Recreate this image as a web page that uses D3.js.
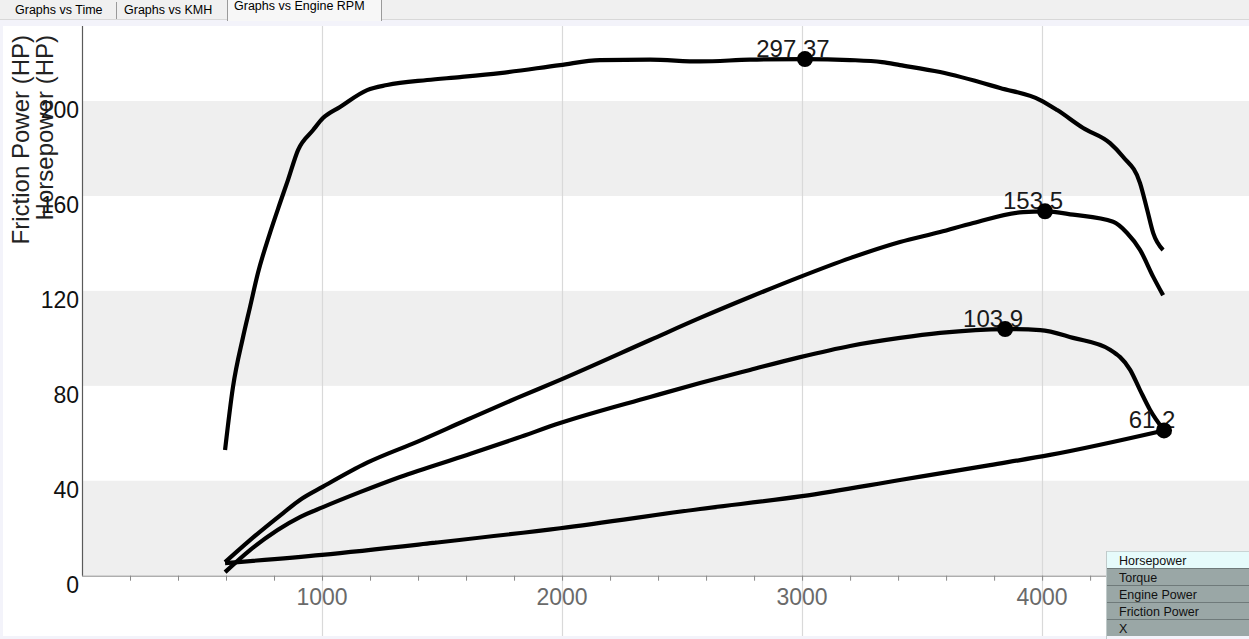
<!DOCTYPE html>
<html><head><meta charset="utf-8">
<script src="https://cdn.jsdelivr.net/npm/d3@7"></script>
<style>
html,body{margin:0;padding:0;background:#f3f3fa;overflow:hidden;}
svg{display:block;}
text{font-family:"Liberation Sans",Arial,sans-serif;}
</style></head>
<body>
<svg id="chart" width="1249" height="639"></svg>
<script>
// ---- data ----
const tabLabels = ["Graphs vs Time", "Graphs vs KMH", "Graphs vs Engine RPM"];
const legendItems = ["Horsepower", "Torque", "Engine Power", "Friction Power", "X"];
const yTicks = [0, 40, 80, 120, 160, 200];
const xLabelTicks = [1000, 2000, 3000, 4000];
const yTitles = ["Friction Power (HP)", "Horsepower (HP)"];

const rpmTorque = [596,629,671,700,733,783,825,858,900,963,1004,1075,1188,1271,1438,1575,1742,1992,2158,2367,2575,2783,3012,3200,3333,3408,3575,3825,3992,4063,4171,4283,4338,4408,4438,4463,4504];
const torque    = [72.3,108.6,137.4,154.6,174.2,197.2,214.5,227.7,245.0,256.5,263.4,269.8,279.5,282.4,285.3,287.0,289.3,293.9,296.8,297.0,296.0,297.0,297.37,296.8,295.6,293.9,289.9,280.7,273.8,268.0,257.7,249.0,241.0,226.0,210.5,197.2,187.5];

const rpmHP = [596,700,838,908,1004,1188,1396,1604,1813,1992,2367,2575,2783,2992,3200,3408,3575,3713,3921,4012,4129,4296,4354,4408,4463,4504];
const hp    = [5.7,15.0,26.4,31.9,37.5,47.6,56.4,65.7,74.9,82.5,99.3,108.6,117.4,125.9,133.8,140.6,144.8,148.6,153.2,153.5,152.1,149.1,144.4,137.3,125.9,118.2];

const rpmEP = [596,700,908,1004,1158,1325,1604,1813,1992,2367,2575,2783,2992,3200,3408,3575,3846,3992,4129,4283,4367,4408,4450,4508];
const ep    = [1.5,10.8,24.7,28.9,35.2,41.6,50.9,58.0,64.3,75.3,81.2,86.7,92.1,96.8,100.2,102.3,103.9,103.5,100.2,95.2,86.7,78.2,69.8,61.2];

const rpmFP = [596,1000,1463,1992,2575,3000,3408,3783,4033,4508];
const fp    = [5.3,8.8,13.8,20.0,28.1,33.5,40.3,46.6,50.9,61.2];

const peakLabels = ["297.37", "153.5", "103.9", "61.2"];

// ---- layout ----
const svg = d3.select("#chart");
const W = 1249, H = 639;
const plotLeft = 82, plotTop = 26, axisY = 575.7, plotBottom = 636;

const x = d3.scaleLinear().domain([0, 4862]).range([plotLeft, W]);
const y = d3.scaleLinear().domain([0, 231.6]).range([axisY, plotTop]);
const yT = d3.scaleLinear().domain([0, 316.4]).range([axisY, plotTop]);

// tab bar
svg.append("rect").attr("x",0).attr("y",0).attr("width",W).attr("height",20).attr("fill","#f0f0f0");
svg.append("line").attr("x1",0).attr("x2",W).attr("y1",19.5).attr("y2",19.5).attr("stroke","#d8d8d8");
svg.append("rect").attr("x",227).attr("y",0).attr("width",154).attr("height",21).attr("fill","#f7f7f7");
const tabX = [15, 124, 234];
const tabY = [14, 14, 10];
tabLabels.forEach((t,i)=>{
  svg.append("text").attr("x",tabX[i]).attr("y",tabY[i]).attr("font-size",12.5).attr("fill","#000").text(t);
});
[[116,2,19],[227,0,21],[381,0,21]].forEach(s=>{
  svg.append("line").attr("x1",s[0]+0.5).attr("x2",s[0]+0.5).attr("y1",s[1]).attr("y2",s[2]).attr("stroke","#9a9a9a");
});

// chart background
svg.append("rect").attr("x",3).attr("y",plotTop).attr("width",W-3).attr("height",plotBottom-plotTop).attr("fill","#fff");

// bands
const bands = [[0,40],[80,120],[160,200]];
svg.selectAll("rect.band").data(bands).enter().append("rect")
  .attr("class","band").attr("x",plotLeft).attr("width",W-plotLeft)
  .attr("y",d=>y(d[1])).attr("height",d=>y(d[0])-y(d[1])).attr("fill","#efefef");

// vertical gridlines
svg.selectAll("line.grid").data(xLabelTicks).enter().append("line")
  .attr("x1",d=>Math.round(x(d))+0.5).attr("x2",d=>Math.round(x(d))+0.5)
  .attr("y1",plotTop).attr("y2",plotBottom).attr("stroke","#d9d9d9").attr("stroke-width",1.2);

// x axis
const xAxis = d3.axisBottom(x).tickValues(d3.range(200, 4801, 200)).tickSize(5).tickFormat("");
const gx = svg.append("g").attr("transform",`translate(0,${axisY})`).call(xAxis);
gx.select(".domain").attr("stroke","#8a8a8a").attr("d",`M${plotLeft},0.5H${W}`);
gx.selectAll(".tick line").attr("stroke","#8a8a8a");
svg.selectAll("text.xl").data(xLabelTicks).enter().append("text")
  .attr("class","xl").attr("x",d=>x(d)).attr("y",605).attr("text-anchor","middle")
  .attr("font-size",23).attr("fill","#6a6a6a").text(d=>d);

// y axis
svg.append("line").attr("x1",plotLeft+0.5).attr("x2",plotLeft+0.5).attr("y1",plotTop).attr("y2",axisY)
  .attr("stroke","#5a5a5a").attr("stroke-width",1.2);
svg.selectAll("text.yl").data(yTicks).enter().append("text")
  .attr("class","yl").attr("x",79).attr("y",d=>y(d)+17).attr("text-anchor","end")
  .attr("font-size",23).attr("fill","#111").text(d=>d);

// y titles
const titleX = [29, 53];
yTitles.forEach((t,i)=>{
  svg.append("text").attr("transform",`translate(${titleX[i]},35) rotate(-90)`)
    .attr("text-anchor","end").attr("font-size",24).attr("fill","#222").text(t);
});

// lines
const series = [
  {r:rpmTorque, v:torque, s:yT},
  {r:rpmHP, v:hp, s:y},
  {r:rpmEP, v:ep, s:y},
  {r:rpmFP, v:fp, s:y}
];
series.forEach(se=>{
  const pts = se.r.map((r,i)=>[r, se.v[i]]);
  const line = d3.line().x(d=>x(d[0])).y(d=>se.s(d[1])).curve(d3.curveMonotoneX);
  svg.append("path").attr("d",line(pts)).attr("fill","none").attr("stroke","#000")
    .attr("stroke-width",4.2).attr("stroke-linejoin","round").attr("stroke-linecap","butt");
});

// peaks
series.forEach((se,k)=>{
  const i = d3.maxIndex(se.v);
  const px = x(se.r[i]), py = se.s(se.v[i]);
  svg.append("text").attr("x",px-12).attr("y",py-2).attr("text-anchor","middle")
    .attr("font-size",24).attr("fill","#1a1a1a").text(peakLabels[k]);
  svg.append("circle").attr("cx",px).attr("cy",py).attr("r",8).attr("fill","#000");
});

// legend
const lgX = 1106, lgY = 551, rowH = 17;
const lg = svg.append("g");
legendItems.forEach((t,i)=>{
  const ry = lgY + i*rowH;
  lg.append("rect").attr("x",lgX).attr("y",ry).attr("width",W-lgX).attr("height",rowH)
    .attr("fill", i===0 ? "#e6fbfb" : "#9aa7a6");
  lg.append("line").attr("x1",lgX).attr("x2",W).attr("y1",ry+0.5).attr("y2",ry+0.5)
    .attr("stroke", i===0 ? "#c8d4d4" : "#6f7a7a");
  lg.append("text").attr("x",lgX+13).attr("y",ry+14).attr("font-size",12.5).attr("fill","#111").text(t);
});
lg.append("line").attr("x1",lgX+0.5).attr("x2",lgX+0.5).attr("y1",lgY).attr("y2",H).attr("stroke","#c0caca");
</script>
</body></html>
